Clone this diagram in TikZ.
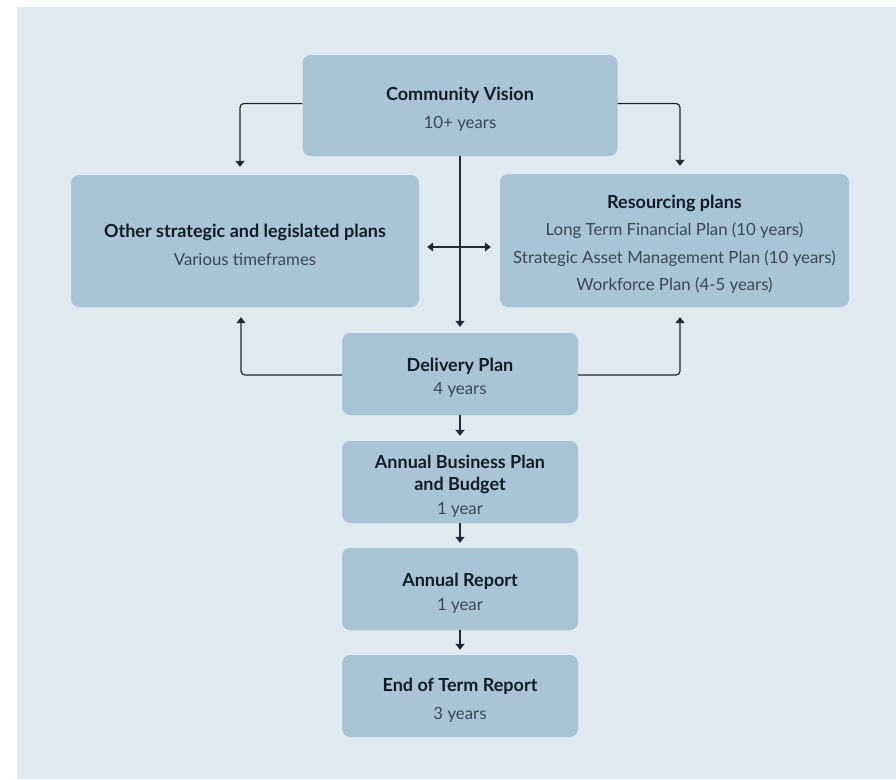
\documentclass[tikz,border=0pt]{standalone}
\usepackage{fontspec}
\usepackage{tikz}
\usepackage{xcolor}
\usetikzlibrary{arrows.meta}
\setmainfont{Lato}

\definecolor{pagebg}{HTML}{DFE9F0}
\definecolor{boxfill}{HTML}{A8C4D5}
\definecolor{linedark}{HTML}{1E2A36}
\definecolor{titletext}{HTML}{111C28}
\definecolor{subtext}{HTML}{3B4753}

\newcommand{\toppad}{\rule{0pt}{21pt}}
\newcommand{\boxtitle}[1]{{\fontsize{18}{24}\selectfont\bfseries\color{titletext}#1}}
\newcommand{\boxsub}[1]{{\fontsize{16.8}{24}\selectfont\color{subtext}#1}}

\tikzset{
	planbox/.style={fill=boxfill, rounded corners=8pt, align=center, inner sep=0pt,
		font=\fontsize{16.8}{24}\selectfont},
	link/.style={linedark, line width=1.2pt, rounded corners=4pt,
		-{Triangle[width=9pt,length=6pt]}},
	linkboth/.style={linedark, line width=1.2pt,
		{Triangle[width=9pt,length=6pt]}-{Triangle[width=9pt,length=6pt]}}
}

\begin{document}
\begin{tikzpicture}[x=1pt, y=-1pt]
	% hintergrund
	\useasboundingbox (0,0) rectangle (896,779);
	\fill[white] (0,0) rectangle (896,779);
	\fill[pagebg] (17,7) rectangle (896,779);
	% obere ebene
	\node[planbox, minimum width=315pt, minimum height=101pt] (vision) at (460,105.5)
		{\toppad\boxtitle{Community Vision}\\[4pt]\boxsub{10+ years}};
	% mittlere ebene, zwei seiten
	\node[planbox, minimum width=348pt, minimum height=132pt] (other) at (245,241)
		{\toppad\boxtitle{Other strategic and legislated plans}\\[4pt]\boxsub{Various timeframes}};
	\node[planbox, minimum width=349pt, minimum height=133pt] (resource) at (674.5,240.5)
		{\toppad\boxtitle{Resourcing plans}\\[3.5pt]\boxsub{Long Term Financial Plan (10 years)}\\[3.5pt]
		\boxsub{Strategic Asset Management Plan (10 years)}\\[3.5pt]\boxsub{Workforce Plan (4-5 years)}};
	% untere kette
	\node[planbox, minimum width=236pt, minimum height=82pt] (delivery) at (460,374)
		{\toppad\boxtitle{Delivery Plan}\\[-1pt]\boxsub{4 years}};
	\node[planbox, minimum width=236pt, minimum height=82pt] (business) at (460,482)
		{\toppad\boxtitle{Annual Business Plan}\\[-2pt]\boxtitle{and Budget}\\\boxsub{1 year}};
	\node[planbox, minimum width=236pt, minimum height=82pt] (annual) at (460,589)
		{\toppad\boxtitle{Annual Report}\\\boxsub{1 year}};
	\node[planbox, minimum width=236pt, minimum height=82pt] (endterm) at (460,696)
		{\toppad\boxtitle{End of Term Report}\\[4pt]\boxsub{3 years}};
	% pfeile von oben
	\draw[link] ([yshift=2pt]vision.west) -| ([xshift=-5pt,yshift=8pt]other.north);
	\draw[link] ([yshift=2pt]vision.east) -| ([xshift=5.5pt,yshift=8pt]resource.north);
	\draw[link] (vision.south) -- ([yshift=6pt]delivery.north);
	\draw[linkboth] ([xshift=8pt,yshift=-6pt]other.east) -- ([xshift=-9pt,yshift=-6.5pt]resource.west);
	% pfeile von delivery nach oben
	\draw[link] ([yshift=-1pt]delivery.west) -| ([xshift=-4pt,yshift=-10pt]other.south);
	\draw[link] ([yshift=-1pt]delivery.east) -| ([xshift=5.5pt,yshift=-10pt]resource.south);
	% kette nach unten
	\draw[link] (delivery.south) -- ([yshift=5pt]business.north);
	\draw[link] (business.south) -- ([yshift=5pt]annual.north);
	\draw[link] (annual.south) -- ([yshift=5pt]endterm.north);
\end{tikzpicture}
\end{document}
